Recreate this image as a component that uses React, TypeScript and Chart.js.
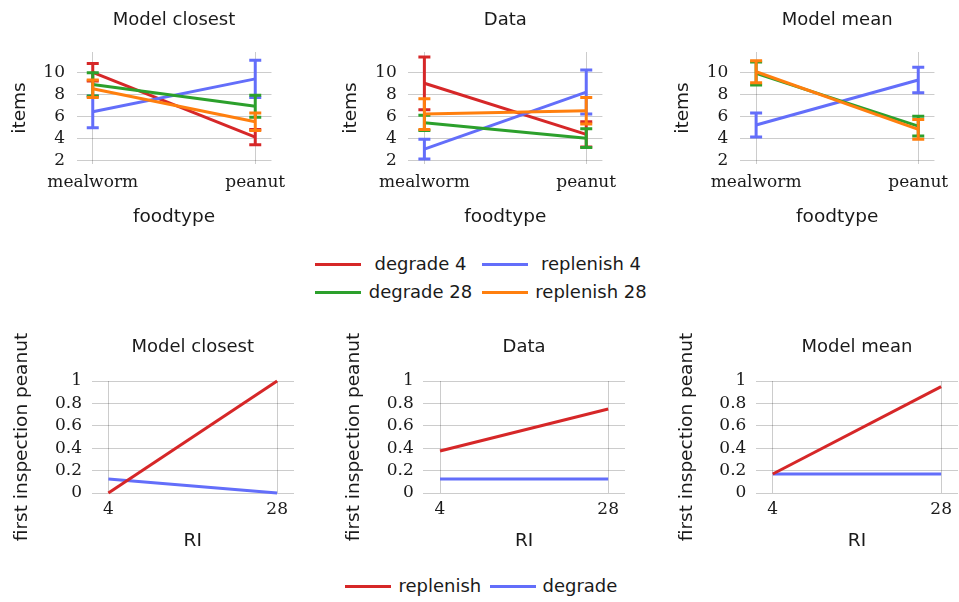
import React, { useEffect, useRef } from 'react';
import { Chart, registerables } from 'chart.js';

Chart.register(...registerables);

// ---------- data ----------
const foodtypes = ['mealworm', 'peanut'];
const itemTicks = [2, 4, 6, 8, 10];
const foodSeries = ['degrade 4', 'replenish 4', 'degrade 28', 'replenish 28'];

// Model closest: mean items eaten per food type, with error half-widths
const closestDegrade4 = [10.0, 4.1];
const closestDegrade4Err = [0.8, 0.7];
const closestReplenish4 = [6.4, 9.4];
const closestReplenish4Err = [1.45, 1.7];
const closestDegrade28 = [8.9, 6.9];
const closestDegrade28Err = [1.05, 1.0];
const closestReplenish28 = [8.5, 5.5];
const closestReplenish28Err = [0.8, 0.8];

// Data
const dataDegrade4 = [9.0, 4.35];
const dataDegrade4Err = [2.4, 1.15];
const dataReplenish4 = [3.0, 8.2];
const dataReplenish4Err = [0.9, 2.0];
const dataDegrade28 = [5.4, 4.0];
const dataDegrade28Err = [0.7, 0.85];
const dataReplenish28 = [6.2, 6.5];
const dataReplenish28Err = [1.4, 1.2];

// Model mean (no degrade 4 curve)
const meanDegrade4: (number | null)[] = [null, null];
const meanDegrade4Err: (number | null)[] = [null, null];
const meanReplenish4 = [5.2, 9.3];
const meanReplenish4Err = [1.1, 1.15];
const meanDegrade28 = [9.9, 5.1];
const meanDegrade28Err = [1.05, 0.9];
const meanReplenish28 = [10.05, 4.8];
const meanReplenish28Err = [1.0, 0.9];

// First inspection of peanut by RI
const riValues = [4, 28];
const probTicks = [0, 0.2, 0.4, 0.6, 0.8, 1];
const riSeries = ['replenish', 'degrade'];
const closestReplenish = [0, 1];
const closestDegrade = [0.125, 0];
const dataReplenish = [0.375, 0.75];
const dataDegrade = [0.125, 0.125];
const meanReplenish = [0.17, 0.95];
const meanDegrade = [0.17, 0.17];

// ---------- styling ----------
const RED = '#d62728';
const BLUE = '#636efa';
const GREEN = '#2ca02c';
const ORANGE = '#ff7f0e';
const foodColors = [RED, BLUE, GREEN, ORANGE];
const riColors = [RED, BLUE];
const SANS = '"DejaVu Sans", sans-serif';
const SERIF = '"DejaVu Serif", serif';
const GRID = 'rgba(0,0,0,0.2)';
const TEXT = '#1a1a1a';

const foodPanels = [
  {
    title: 'Model closest',
    means: [closestDegrade4, closestReplenish4, closestDegrade28, closestReplenish28],
    errs: [closestDegrade4Err, closestReplenish4Err, closestDegrade28Err, closestReplenish28Err],
  },
  {
    title: 'Data',
    means: [dataDegrade4, dataReplenish4, dataDegrade28, dataReplenish28],
    errs: [dataDegrade4Err, dataReplenish4Err, dataDegrade28Err, dataReplenish28Err],
  },
  {
    title: 'Model mean',
    means: [meanDegrade4, meanReplenish4, meanDegrade28, meanReplenish28],
    errs: [meanDegrade4Err, meanReplenish4Err, meanDegrade28Err, meanReplenish28Err],
  },
];

const riPanels = [
  { title: 'Model closest', series: [closestReplenish, closestDegrade] },
  { title: 'Data', series: [dataReplenish, dataDegrade] },
  { title: 'Model mean', series: [meanReplenish, meanDegrade] },
];

// plot-area left edges of each row
const topLefts = [76.5, 408.2, 739.9];
const bottomLefts = [91.5, 423.2, 755.9];
const PLOT_W = 202;

// vertical error bars with caps, drawn right after their own line
const errorBarPlugin = {
  id: 'errorBars',
  afterDatasetDraw(chart: any, args: any) {
    const ds = chart.data.datasets[args.index];
    const errs = ds.errors;
    if (!errs) return;
    const { ctx, scales } = chart;
    ctx.save();
    ctx.strokeStyle = ds.borderColor;
    ctx.lineWidth = 3;
    ctx.lineCap = 'butt';
    ds.data.forEach((pt: any, i: number) => {
      if (pt.y == null || errs[i] == null) return;
      const px = scales.x.getPixelForValue(pt.x);
      const top = scales.y.getPixelForValue(pt.y + errs[i]);
      const bot = scales.y.getPixelForValue(pt.y - errs[i]);
      ctx.beginPath();
      ctx.moveTo(px, top);
      ctx.lineTo(px, bot);
      ctx.moveTo(px - 6, top);
      ctx.lineTo(px + 6, top);
      ctx.moveTo(px - 6, bot);
      ctx.lineTo(px + 6, bot);
      ctx.stroke();
    });
    ctx.restore();
  },
};

type Box = { x: number; y: number; w: number; h: number };

function foodConfig(panel: (typeof foodPanels)[number], yAxisW: number): any {
  return {
    type: 'line',
    data: {
      datasets: foodSeries.map((name, s) => ({
        label: name,
        data: foodtypes.map((_, i) => ({ x: i, y: panel.means[s][i] })),
        errors: panel.errs[s],
        borderColor: foodColors[s],
        backgroundColor: foodColors[s],
        borderWidth: 3,
        pointRadius: 0,
        order: foodSeries.length - s,
        clip: false,
      })),
    },
    options: {
      responsive: false,
      animation: false,
      devicePixelRatio: 1,
      events: [],
      layout: { padding: { left: 0, right: 17, top: 0, bottom: 0 } },
      plugins: {
        legend: { display: false },
        tooltip: { enabled: false },
        title: {
          display: true,
          text: panel.title,
          fullSize: false,
          color: TEXT,
          font: { family: SANS, size: 18, weight: 'normal', lineHeight: 1.2 },
          padding: { top: 10, bottom: 20.4 },
        },
      },
      scales: {
        x: {
          type: 'linear',
          min: -0.1,
          max: 1.1,
          afterBuildTicks: (s: any) => {
            s.ticks = foodtypes.map((_, i) => ({ value: i }));
          },
          afterFit: (s: any) => {
            s.height = 68;
          },
          ticks: {
            callback: (v: number) => foodtypes[v],
            font: { family: SERIF, size: 17 },
            color: TEXT,
            padding: 8.8,
            maxRotation: 0,
            autoSkip: false,
          },
          grid: { color: GRID, lineWidth: 1, drawTicks: false },
          border: { display: false },
          title: {
            display: true,
            text: 'foodtype',
            color: TEXT,
            font: { family: SANS, size: 18.5, lineHeight: 1.2 },
            padding: { top: 0, bottom: 4.2 },
          },
        },
        y: {
          type: 'linear',
          min: 1.65,
          max: 11.85,
          afterBuildTicks: (s: any) => {
            s.ticks = itemTicks.map((v) => ({ value: v }));
          },
          afterFit: (s: any) => {
            s.width = yAxisW;
          },
          ticks: {
            callback: (v: number) => String(v),
            font: { family: SERIF, size: 17 },
            color: TEXT,
            padding: 11.5,
            autoSkip: false,
          },
          grid: { color: GRID, lineWidth: 1, drawTicks: false },
          border: { display: false },
          title: {
            display: true,
            text: 'items',
            color: TEXT,
            font: { family: SANS, size: 18.5, lineHeight: 1.2 },
            padding: { top: yAxisW - 56.8 - 11.1, bottom: 0 },
          },
        },
      },
    },
    plugins: [errorBarPlugin],
  };
}

function riConfig(panel: (typeof riPanels)[number], yAxisW: number): any {
  return {
    type: 'line',
    data: {
      datasets: riSeries.map((name, s) => ({
        label: name,
        data: riValues.map((r, i) => ({ x: r, y: panel.series[s][i] })),
        borderColor: riColors[s],
        backgroundColor: riColors[s],
        borderWidth: 3,
        pointRadius: 0,
        clip: false,
      })),
    },
    options: {
      responsive: false,
      animation: false,
      devicePixelRatio: 1,
      events: [],
      layout: { padding: { left: 0, right: 1, top: 0, bottom: 0 } },
      plugins: {
        legend: { display: false },
        tooltip: { enabled: false },
        title: {
          display: true,
          text: panel.title,
          fullSize: false,
          color: TEXT,
          font: { family: SANS, size: 18, weight: 'normal', lineHeight: 1.2 },
          padding: { top: 16.5, bottom: 22.9 },
        },
      },
      scales: {
        x: {
          type: 'linear',
          min: 1.6,
          max: 30.4,
          afterBuildTicks: (s: any) => {
            s.ticks = riValues.map((v) => ({ value: v }));
          },
          afterFit: (s: any) => {
            s.height = 63;
          },
          ticks: {
            callback: (v: number) => String(v),
            font: { family: SERIF, size: 17 },
            color: TEXT,
            padding: 6.8,
            maxRotation: 0,
            autoSkip: false,
          },
          grid: { color: GRID, lineWidth: 1, drawTicks: false },
          border: { display: false },
          title: {
            display: true,
            text: 'RI',
            color: TEXT,
            font: { family: SANS, size: 18.5, lineHeight: 1.2 },
            padding: { top: 0, bottom: 3.9 },
          },
        },
        y: {
          type: 'linear',
          min: 0,
          max: 1,
          afterBuildTicks: (s: any) => {
            s.ticks = probTicks.map((v) => ({ value: v }));
          },
          afterFit: (s: any) => {
            s.width = yAxisW;
          },
          ticks: {
            callback: (v: number) => String(v),
            font: { family: SERIF, size: 17 },
            color: TEXT,
            padding: 9.5,
            autoSkip: false,
          },
          grid: { color: GRID, lineWidth: 1, drawTicks: false },
          border: { display: false },
          title: {
            display: true,
            text: 'first inspection peanut',
            color: TEXT,
            font: { family: SANS, size: 18.5, lineHeight: 1.2 },
            padding: { top: yAxisW - 69 - 11.1, bottom: 0 },
          },
        },
      },
    },
  };
}

function ChartCanvas({ box, make }: { box: Box; make: () => any }) {
  const ref = useRef<HTMLCanvasElement>(null);
  useEffect(() => {
    const chart = new Chart(ref.current as HTMLCanvasElement, make());
    return () => chart.destroy();
  }, []);
  return (
    <canvas
      ref={ref}
      width={box.w}
      height={box.h}
      style={{ position: 'absolute', left: box.x, top: box.y, width: box.w, height: box.h }}
    />
  );
}

function LegendLine({ x, y, color }: { x: number; y: number; color: string }) {
  return (
    <div
      style={{
        position: 'absolute',
        left: x,
        top: y - 1.5,
        width: 46,
        height: 3,
        background: color,
      }}
    />
  );
}

function LegendText({ x, y, text, center }: { x: number; y: number; text: string; center?: boolean }) {
  return (
    <div
      style={{
        position: 'absolute',
        left: x,
        top: y,
        transform: center ? 'translate(-50%, -50%)' : 'translate(0, -50%)',
        font: `18px ${SANS}`,
        lineHeight: '18px',
        color: TEXT,
        whiteSpace: 'nowrap',
      }}
    >
      {text}
    </div>
  );
}

export default function App() {
  const swatchX = [315, 482];
  const textCenterX = [420.5, 591];
  const rowY = [264, 292];
  return (
    <div
      style={{
        position: 'fixed',
        left: 0,
        top: 0,
        width: 959,
        height: 602,
        overflow: 'hidden',
        background: '#fff',
      }}
    >
      {foodPanels.map((p, k) => {
        const x = Math.floor(topLefts[k] - 72);
        const yAxisW = topLefts[k] - x;
        const w = Math.min(Math.round(yAxisW + PLOT_W + 17), 959 - x);
        return (
          <ChartCanvas
            key={'food' + k}
            box={{ x, y: 0, w, h: 232 }}
            make={() => foodConfig(p, yAxisW)}
          />
        );
      })}
      {riPanels.map((p, k) => {
        const x = Math.floor(bottomLefts[k] - 84);
        const yAxisW = bottomLefts[k] - x;
        const w = Math.min(Math.round(yAxisW + PLOT_W + 1), 959 - x);
        return (
          <ChartCanvas
            key={'ri' + k}
            box={{ x, y: 320, w, h: 236 }}
            make={() => riConfig(p, yAxisW)}
          />
        );
      })}

      {/* legend for the food-type panels: two rows, two columns */}
      {[0, 1].map((row) =>
        [0, 1].map((col) => {
          const s = row * 2 + col;
          return (
            <React.Fragment key={'lg' + s}>
              <LegendLine x={swatchX[col]} y={rowY[row]} color={foodColors[s]} />
              <LegendText x={textCenterX[col]} y={rowY[row]} text={foodSeries[s]} center />
            </React.Fragment>
          );
        })
      )}

      {/* legend for the RI panels */}
      <LegendLine x={345} y={586} color={riColors[0]} />
      <LegendText x={398.5} y={586} text={riSeries[0]} />
      <LegendLine x={490} y={586} color={riColors[1]} />
      <LegendText x={542.5} y={586} text={riSeries[1]} />
    </div>
  );
}
